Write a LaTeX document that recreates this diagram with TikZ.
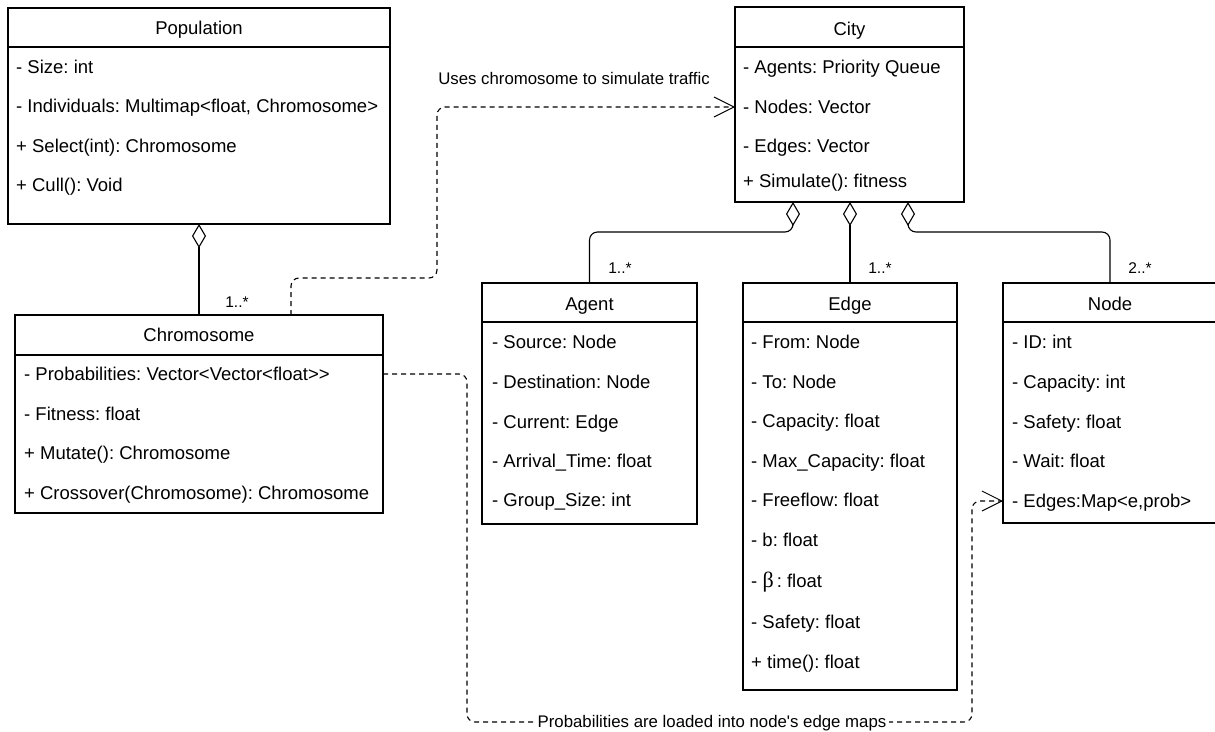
\documentclass[tikz,border=0pt]{standalone}
\usepackage{fontspec}
\setmainfont{Liberation Sans}
\newfontfamily\greekfont{Liberation Serif}
\usetikzlibrary{arrows.meta,calc}
\frenchspacing

\begin{document}
\begin{tikzpicture}[x=1pt,y=-1pt,
  cls/.style={draw, line width=1.1pt, anchor=north west, inner sep=0pt, outer sep=0pt},
  sepline/.style={line width=1.1pt},
  title/.style={anchor=base, inner sep=0pt, font=\fontsize{18.5}{18.5}\selectfont},
  row/.style={anchor=base west, inner sep=0pt, font=\fontsize{18.5}{18.5}\selectfont},
  lbl/.style={anchor=base, inner sep=0pt, font=\fontsize{16.8}{16.8}\selectfont},
  mult/.style={anchor=base, inner sep=0pt, font=\fontsize{15.5}{15.5}\selectfont},
  agg/.style={line width=1.1pt, rounded corners=8pt,
    -{Diamond[length=24pt,width=14pt,fill=white,line width=1.1pt]}},
  dep/.style={line width=1.1pt, dash pattern=on 5pt off 4pt, rounded corners=8pt,
    -{Straight Barb[length=20pt,width=20pt,line width=1pt]}},
]
\useasboundingbox[fill=white] (0,0) rectangle (1215,731);

% ---------- Population ----------
\node[cls, minimum width=382pt, minimum height=216pt] (pop) at (8,8) {};
\draw[sepline] (pop.west |- 0,47) -- (pop.east |- 0,47);
\node[title] (popT) at (199,34.1) {Population};
\foreach \y/\t [count=\i] in {67/{- Size: int},
                              106/{- Individuals: Multimap<float, Chromosome>},
                              146/{+ Select(int): Chromosome},
                              185/{+ Cull(): Void}}
  \node[row] (pop-\i) at (16,\y+6.6) {\t};

% ---------- Chromosome ----------
\node[cls, minimum width=368pt, minimum height=198pt] (chrom) at (15,315) {};
\draw[sepline] (chrom.west |- 0,355) -- (chrom.east |- 0,355);
\node[title] (chromT) at (199,341.6) {Chromosome};
\foreach \y/\t [count=\i] in {374/{- Probabilities: Vector<Vector<float>{}>},
                              414/{- Fitness: float},
                              453/{+ Mutate(): Chromosome},
                              493/{+ Crossover(Chromosome): Chromosome}}
  \node[row] (chrom-\i) at (24,\y+6.6) {\t};

% ---------- City ----------
\node[cls, minimum width=229pt, minimum height=195pt] (city) at (735,7) {};
\draw[sepline] (city.west |- 0,47) -- (city.east |- 0,47);
\node[title] (cityT) at (849.5,35.6) {City};
\foreach \y/\t [count=\i] in {67/{- Agents: Priority Queue},
                              107/{- Nodes: Vector},
                              146/{- Edges: Vector},
                              181/{+ Simulate(): fitness}}
  \node[row] (city-\i) at (743,\y+6.6) {\t};

% ---------- Agent ----------
\node[cls, minimum width=215pt, minimum height=241pt] (agent) at (482,283) {};
\draw[sepline] (agent.west |- 0,322) -- (agent.east |- 0,322);
\node[title] (agentT) at (589.5,310.6) {Agent};
\foreach \y/\t [count=\i] in {342/{- Source: Node},
                              382/{- Destination: Node},
                              422/{- Current: Edge},
                              461/{- Arrival\_Time: float},
                              500/{- Group\_Size: int}}
  \node[row] (agent-\i) at (492,\y+6.6) {\t};

% ---------- Edge ----------
\node[cls, minimum width=214pt, minimum height=407pt] (edge) at (743,283) {};
\draw[sepline] (edge.west |- 0,322) -- (edge.east |- 0,322);
\node[title] (edgeT) at (850,310.6) {Edge};
\foreach \y/\t [count=\i] in {342/{- From: Node},
                              382/{- To: Node},
                              421/{- Capacity: float},
                              461/{- Max\_Capacity: float},
                              500/{- Freeflow: float},
                              540/{- b: float},
                              581/{- {\greekfont\fontsize{22}{22}\selectfont β}\,: float},
                              622/{- Safety: float},
                              662/{+ time(): float}}
  \node[row] (edge-\i) at (751,\y+6.6) {\t};

% ---------- Node ----------
\node[cls, minimum width=214pt, minimum height=240pt] (gnode) at (1003,283) {};
\draw[sepline] (gnode.west |- 0,322) -- (gnode.east |- 0,322);
\node[title] (gnodeT) at (1110,310.6) {Node};
\foreach \y/\t [count=\i] in {342/{- ID: int},
                              382/{- Capacity: int},
                              422/{- Safety: float},
                              461/{- Wait: float},
                              501/{- Edges:Map<e,prob>}}
  \node[row] (gnode-\i) at (1012,\y+6.6) {\t};

% ---------- aggregations ----------
\coordinate (cityA) at ([xshift=-56.5pt]city.south);
\coordinate (cityN) at ([xshift=58.5pt]city.south);
\draw[agg] (chrom.north) -- (pop.south);
\draw[agg] (edge.north) -- (edge.north |- city.south);
\draw[agg] (agent.north) |- ([yshift=-30pt]cityA) -- (cityA);
\draw[agg] (gnode.north) |- ([yshift=-30pt]cityN) -- (cityN);

\node[mult] (m1) at (237,307.5) {1..*};
\node[mult] (m2) at (620,273.5) {1..*};
\node[mult] (m3) at (880,273.5) {1..*};
\node[mult] (m4) at (1140,273.5) {2..*};

% ---------- dependencies ----------
\coordinate (usesIn) at ([yshift=-2.5pt]city.west);
\draw[dep] ([xshift=92pt]chrom.north) |- (437,278) |- (usesIn);
\node[lbl] (usesL) at (574,84.5) {Uses chromosome to simulate traffic};

\coordinate (probOut) at ([yshift=40pt]chrom.east);
\coordinate (probIn) at ([yshift=-98pt]gnode.west);
\draw[dep] (probOut) -| (467,722) -| (972,501) -- (probIn);
\node[lbl, fill=white, inner xsep=3pt, inner ysep=2pt] (probL) at (712,727.8)
  {Probabilities are loaded into node\textquotesingle s edge maps};
\end{tikzpicture}
\end{document}
